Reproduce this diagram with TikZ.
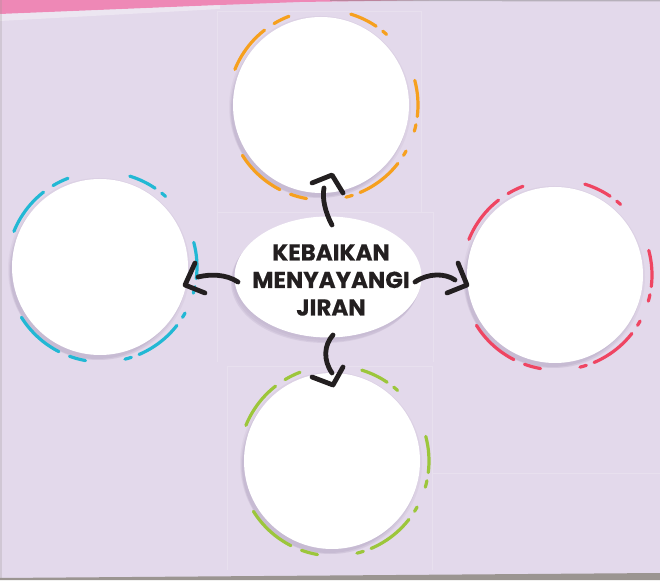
\documentclass[tikz,border=0pt]{standalone}
\usepackage{fontspec}
\setmainfont{Poppins}[BoldFeatures={FakeBold=0.6}]
\usetikzlibrary{calc,shapes.geometric}
\definecolor{bg}{HTML}{E3D9EB}
\definecolor{ink}{HTML}{231F20}
\definecolor{ringorange}{HTML}{F6A01E}
\definecolor{ringcyan}{HTML}{22B8D4}
\definecolor{ringred}{HTML}{EF4562}
\definecolor{ringgreen}{HTML}{9CC63B}
\definecolor{shadec}{HTML}{9F8FB0}
\definecolor{pinkband}{HTML}{EE88B6}
\definecolor{panelline}{HTML}{E8E0EE}
\definecolor{stripc}{HTML}{9B9591}
\newcommand\mybubble[4]{%
  \foreach \dx/\dy/\rr/\op in {-1/-2/91/0.10,-2/-4/89/0.15,-3/-5/87/0.20}{%
    \fill[shadec, opacity=\op, shift={(\dx,\dy)}] (#2,#3) circle (\rr pt);}
  \node[bubble] (#1) at (#2,#3) {};
  \foreach \a/\b in {158/128,121/111,73/56,51/48,15/-7,-12/-16,-29/-32,-38/-67,-72/-76,-100/-110,-117/-148}{%
    \draw[ringdash, draw=#4] ($(#1)+(2,0)+(\a:95pt)$) arc[start angle=\a, end angle=\b, radius=95pt];}
}
\begin{document}
\begin{tikzpicture}[x=1pt,y=1pt,
  bubble/.style={circle, fill=white, minimum size=176pt, inner sep=0pt},
  ringdash/.style={line width=3.2pt, line cap=round},
  arrowline/.style={draw=ink, line width=4.8pt, line cap=round, line join=round},
  panel/.style={draw=panelline, line width=0.7pt},
  title/.style={font=\bfseries\fontsize{23}{27.5}\selectfont, align=center, text=ink, inner sep=0pt}
]
\useasboundingbox (0,0) rectangle (660,580);
\fill[bg] (0,0) rectangle (660,580);
% faint panel lines
\draw[panel] (217,218) -- (217,569) -- (421,569) -- (421,368);
\draw[panel] (217,368) -- (433,368) -- (433,218);
\draw[panel] (227,10) -- (227,214) -- (432,214) -- (432,10);
\draw[panel] (432,107) -- (660,107);
% top pink band
\fill[pinkband] (0,580) -- (430,580) -- (300,578) -- (220,575) -- (0,566) -- cycle;
\fill[white, opacity=0.35] (0,566) -- (220,575) -- (220,571) -- (0,559) -- cycle;
\fill[gray, opacity=0.45] (330,580) -- (660,580) -- (660,578.5) -- (330,579) -- cycle;
% bottom strip and left edge
\fill[stripc] (0,0) -- (660,0) -- (660,7) -- (0,2) -- cycle;
\fill[stripc, opacity=0.25] (0,0) rectangle (2,580);
% bubbles
\mybubble{top}{321}{475}{ringorange}
\mybubble{left}{100}{313}{ringcyan}
\mybubble{right}{555}{305}{ringred}
\mybubble{bottom}{332}{119}{ringgreen}
% centre ellipse
\foreach \dx/\dy/\op in {-1/-2/0.10,-2/-4/0.15,-3/-5/0.18}{%
  \fill[shadec, opacity=\op, shift={(\dx,\dy)}] (328,303) ellipse [x radius=94pt, y radius=61pt];}
\node[ellipse, fill=white, minimum width=187pt, minimum height=121pt, inner sep=0pt] (centre) at (328,303) {};
\node[title] (label) at (331,300) {KEBAIKAN\\MENYAYANGI\\JIRAN};
% arrows
\coordinate (u0) at (332,355); \coordinate (u1) at (324,392);
\coordinate (ua) at (312,397); \coordinate (ut) at (332,405); \coordinate (ub) at (343,387);
\draw[arrowline] (u0) .. controls (325,368) and (322,382) .. (u1);
\draw[arrowline] (ua) -- (ut) -- (ub);
\coordinate (l0) at (238,298); \coordinate (l1) at (198,303);
\coordinate (la) at (195,317); \coordinate (lt) at (185,295); \coordinate (lb) at (205,287);
\draw[arrowline] (l0) .. controls (226,306) and (210,306) .. (l1);
\draw[arrowline] (la) -- (lt) -- (lb);
\coordinate (r0) at (415,298); \coordinate (r1) at (455,300);
\coordinate (ra) at (458,317); \coordinate (rt) at (467,295); \coordinate (rb) at (447,287);
\draw[arrowline] (r0) .. controls (428,307) and (445,307) .. (r1);
\draw[arrowline] (ra) -- (rt) -- (rb);
\coordinate (b0) at (333,245); \coordinate (b1) at (332,207);
\coordinate (ba) at (312,203); \coordinate (bt) at (333,195); \coordinate (bb) at (343,213);
\draw[arrowline] (b0) .. controls (324,235) and (323,220) .. (b1);
\draw[arrowline] (ba) -- (bt) -- (bb);
\end{tikzpicture}
\end{document}
